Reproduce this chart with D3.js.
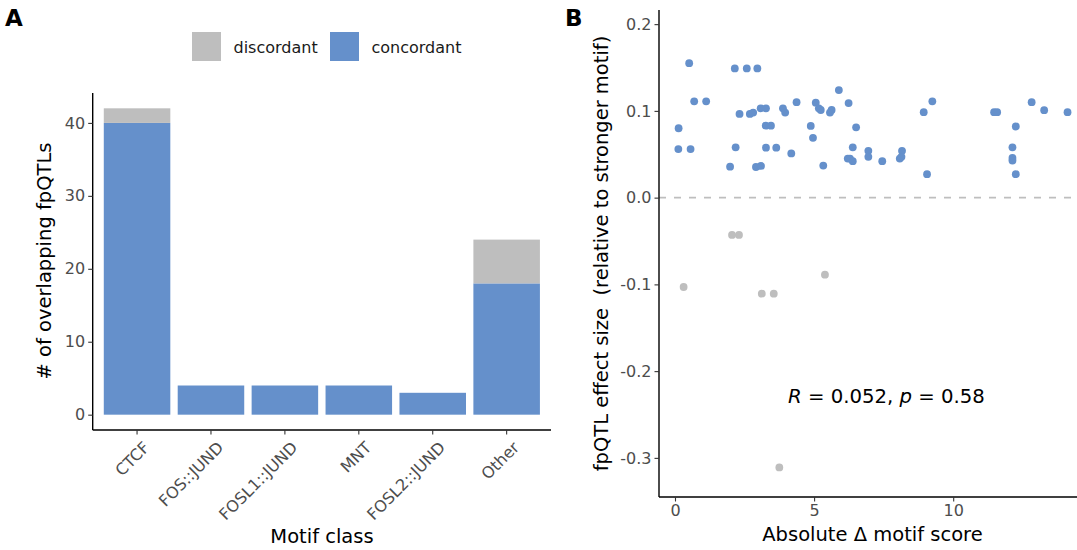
<!DOCTYPE html>
<html>
<head>
<meta charset="utf-8">
<script src="https://cdn.jsdelivr.net/npm/d3@7"></script>
<style>
  html, body { margin: 0; padding: 0; background: #fff; }
  svg { display: block; font-family: "DejaVu Sans", sans-serif; }
  text { white-space: pre; }
</style>
</head>
<body>
<svg id="chart" width="1077" height="550"></svg>
<script>
// ---------- Panel A data ----------
const categories = ["CTCF", "FOS::JUND", "FOSL1::JUND", "MNT", "FOSL2::JUND", "Other"];
const concordantCounts = [40, 4, 4, 4, 3, 18];
const discordantCounts = [2, 0, 0, 0, 0, 6];
const yTicksA = [0, 10, 20, 30, 40];
const legendLabels = ["discordant", "concordant"];

// ---------- Panel B data ----------
const concordX = [0.51, 2.15, 2.58, 2.96, 0.69, 1.12, 0.13, 0.12, 0.56, 2.32,
                  2.69, 2.81, 3.08, 3.27, 3.88, 3.96, 4.37, 3.26, 3.45, 2.18,
                  3.27, 3.64, 4.18, 1.98, 2.91, 3.09, 4.88, 4.96, 5.06, 5.17,
                  5.24, 5.57, 5.63, 5.89, 6.24, 6.51, 6.39, 5.33, 6.21, 6.29,
                  6.39, 6.95, 6.95, 7.45, 8.16, 8.08, 8.14, 8.94, 9.25, 9.06,
                  11.47, 11.58, 12.25, 12.13, 12.13, 12.13, 12.25, 12.82, 13.27, 14.11];
const concordY = [0.155, 0.149, 0.149, 0.149, 0.111, 0.111, 0.080, 0.056, 0.056, 0.0965,
                  0.0965, 0.098, 0.103, 0.103, 0.103, 0.098, 0.110, 0.083, 0.083, 0.058,
                  0.0576, 0.0576, 0.051, 0.0357, 0.0353, 0.0365, 0.0827, 0.069, 0.1095, 0.103,
                  0.101, 0.098, 0.101, 0.124, 0.109, 0.081, 0.058, 0.037, 0.045, 0.045,
                  0.042, 0.054, 0.047, 0.042, 0.054, 0.045, 0.047, 0.0985, 0.111, 0.027,
                  0.0985, 0.0985, 0.082, 0.058, 0.0458, 0.0427, 0.027, 0.110, 0.1008, 0.0985];
const discordX = [2.05, 2.30, 0.31, 3.12, 3.55, 5.39, 3.75];
const discordY = [-0.043, -0.043, -0.103, -0.1107, -0.1107, -0.0888, -0.311];
const xTicksB = [0, 5, 10];
const yTicksB = [-0.3, -0.2, -0.1, 0.0, 0.1, 0.2];
const annotation = { R: "0.052", p: "0.58" };

const BLUE = "#6590CB";
const GRAY = "#BEBEBE";
const TICKCOL = "#4d4d4d";
const TICKFONT = 16;

const svg = d3.select("#chart");

// ================= PANEL A =================
const A = { left: 92.7, right: 551, top: 93, bottom: 430 };
const xA = d3.scaleBand().domain(categories).range([A.left, A.right])
  .paddingInner(0.1).paddingOuter(0.15);
const yA = d3.scaleLinear().domain([-2.1, 44.1]).range([A.bottom, A.top]);

const rows = categories.map((c, i) => ({ cat: c, concordant: concordantCounts[i], discordant: discordantCounts[i] }));
const stack = d3.stack().keys(["concordant", "discordant"])(rows);
const colorA = { concordant: BLUE, discordant: GRAY };

const gA = svg.append("g");
stack.forEach(layer => {
  gA.selectAll(null).data(layer.filter(d => d[1] > d[0])).enter().append("rect")
    .attr("x", d => xA(d.data.cat))
    .attr("width", xA.bandwidth())
    .attr("y", d => yA(d[1]))
    .attr("height", d => yA(d[0]) - yA(d[1]))
    .attr("fill", colorA[layer.key]);
});

// y axis A
const yAxisA = gA.append("g").attr("transform", `translate(${A.left},0)`)
  .call(d3.axisLeft(yA).tickValues(yTicksA).tickSize(4.5).tickPadding(3));
// x axis A
const xAxisA = gA.append("g").attr("transform", `translate(0,${A.bottom})`)
  .call(d3.axisBottom(xA).tickSize(4.5).tickPadding(3));
[yAxisA, xAxisA].forEach(ax => {
  ax.select(".domain").attr("stroke", "#000").attr("stroke-width", 1.4);
  ax.selectAll(".tick line").attr("stroke", "#333").attr("stroke-width", 1.1);
  ax.selectAll(".tick text").attr("fill", TICKCOL).attr("font-size", TICKFONT)
    .attr("font-family", "DejaVu Sans");
});
yAxisA.select(".domain").attr("d", `M0,${A.top}V${A.bottom}`);
xAxisA.select(".domain").attr("d", `M${A.left},0H${A.right}`);
xAxisA.selectAll(".tick text")
  .attr("text-anchor", "end")
  .attr("dy", null)
  .attr("y", 0)
  .attr("dominant-baseline", "hanging")
  .attr("transform", "translate(5,10) rotate(-45)");

// titles A
svg.append("text").attr("x", 322).attr("y", 543).attr("text-anchor", "middle")
  .attr("font-size", 19.5).text("Motif class");
svg.append("text").attr("transform", "translate(51,261) rotate(-90)")
  .attr("text-anchor", "middle").attr("font-size", 19.5).text("# of overlapping fpQTLs");

// legend
const legendColors = [GRAY, BLUE];
const legendX = [192, 330];
legendLabels.forEach((lab, i) => {
  svg.append("rect").attr("x", legendX[i]).attr("y", 32).attr("width", 29).attr("height", 29)
    .attr("fill", legendColors[i]);
  svg.append("text").attr("x", legendX[i] + 41.5).attr("y", 52.5)
    .attr("font-size", 16).attr("fill", "#1a1a1a").text(lab);
});

// panel label A
svg.append("text").attr("x", 5).attr("y", 26).attr("font-size", 23)
  .attr("font-weight", "bold").text("A");

// ================= PANEL B =================
const B = { left: 659, right: 1077, top: 10, bottom: 497 };
const xB = d3.scaleLinear().domain([-0.575, 14.45]).range([B.left, B.right]);
const yB = d3.scaleLinear().domain([-0.3451, 0.2163]).range([B.bottom, B.top]);

const gB = svg.append("g");
// dashed zero line
gB.append("line").attr("x1", B.left).attr("x2", B.right)
  .attr("y1", yB(0)).attr("y2", yB(0))
  .attr("stroke", GRAY).attr("stroke-width", 1.6).attr("stroke-dasharray", "7,8");

// points
const concordPts = concordX.map((x, i) => ({ x, y: concordY[i] }));
const discordPts = discordX.map((x, i) => ({ x, y: discordY[i] }));
gB.selectAll(".pd").data(discordPts).enter().append("circle")
  .attr("cx", d => xB(d.x)).attr("cy", d => yB(d.y)).attr("r", 3.9).attr("fill", GRAY);
gB.selectAll(".pc").data(concordPts).enter().append("circle")
  .attr("cx", d => xB(d.x)).attr("cy", d => yB(d.y)).attr("r", 3.9).attr("fill", BLUE);

// axes B
const yAxisB = gB.append("g").attr("transform", `translate(${B.left},0)`)
  .call(d3.axisLeft(yB).tickValues(yTicksB).tickFormat(d3.format(".1f")).tickSize(4.5).tickPadding(3));
const xAxisB = gB.append("g").attr("transform", `translate(0,${B.bottom})`)
  .call(d3.axisBottom(xB).tickValues(xTicksB).tickSize(4.5).tickPadding(3));
[yAxisB, xAxisB].forEach(ax => {
  ax.select(".domain").attr("stroke", "#000").attr("stroke-width", 1.4);
  ax.selectAll(".tick line").attr("stroke", "#333").attr("stroke-width", 1.1);
  ax.selectAll(".tick text").attr("fill", TICKCOL).attr("font-size", TICKFONT)
    .attr("font-family", "DejaVu Sans");
});
yAxisB.select(".domain").attr("d", `M0,${B.top}V${B.bottom}`);
xAxisB.select(".domain").attr("d", `M${B.left},0H${B.right}`);
yAxisB.selectAll(".tick text").text(d => d3.format(".1f")(d).replace("−", "-"));

// titles B
svg.append("text").attr("x", 872.5).attr("y", 541).attr("text-anchor", "middle")
  .attr("font-size", 19.5).text("Absolute Δ motif score");
svg.append("text").attr("transform", "translate(608,253.5) rotate(-90)")
  .attr("text-anchor", "middle").attr("font-size", 19.5)
  .text("fpQTL effect size  (relative to stronger motif)");

// annotation
const ann = svg.append("text").attr("x", xB(7.6)).attr("y", 403)
  .attr("text-anchor", "middle").attr("font-size", 19.7).attr("fill", "#000");
ann.append("tspan").attr("font-style", "italic").text("R");
ann.append("tspan").text(" = " + annotation.R + ", ");
ann.append("tspan").attr("font-style", "italic").text("p");
ann.append("tspan").text(" = " + annotation.p);

// panel label B
svg.append("text").attr("x", 565).attr("y", 26).attr("font-size", 23)
  .attr("font-weight", "bold").text("B");
</script>
</body>
</html>
